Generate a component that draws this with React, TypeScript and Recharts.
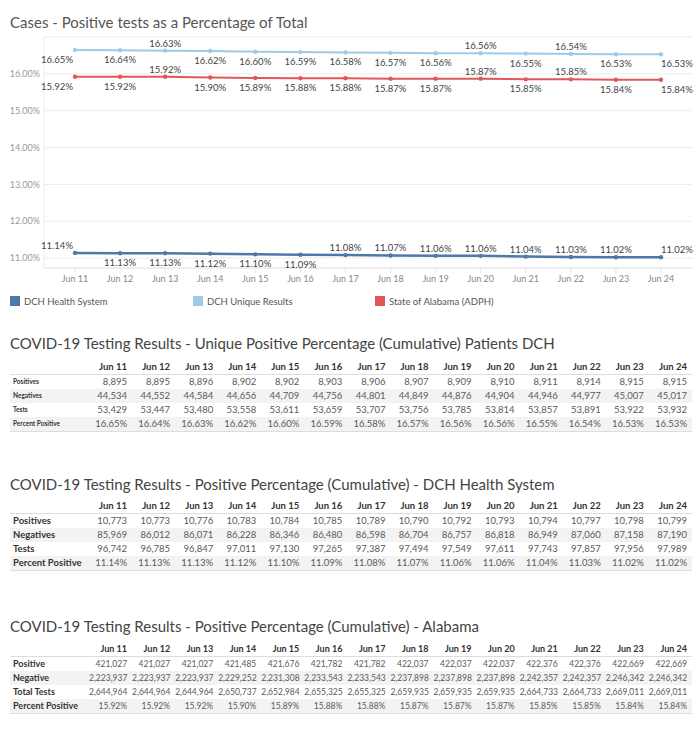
import React from "react";
import { LineChart, Line, XAxis, YAxis, CartesianGrid } from "recharts";

const dates = ["Jun 11", "Jun 12", "Jun 13", "Jun 14", "Jun 15", "Jun 16", "Jun 17", "Jun 18", "Jun 19", "Jun 20", "Jun 21", "Jun 22", "Jun 23", "Jun 24"];

// DCH unique patients
const uniquePositives = [8895, 8895, 8896, 8902, 8902, 8903, 8906, 8907, 8909, 8910, 8911, 8914, 8915, 8915];
const uniqueNegatives = [44534, 44552, 44584, 44656, 44709, 44756, 44801, 44849, 44876, 44904, 44946, 44977, 45007, 45017];
const uniqueTests = [53429, 53447, 53480, 53558, 53611, 53659, 53707, 53756, 53785, 53814, 53857, 53891, 53922, 53932];
const uniquePct = [16.65, 16.64, 16.63, 16.62, 16.6, 16.59, 16.58, 16.57, 16.56, 16.56, 16.55, 16.54, 16.53, 16.53];

// DCH health system
const dchPositives = [10773, 10773, 10776, 10783, 10784, 10785, 10789, 10790, 10792, 10793, 10794, 10797, 10798, 10799];
const dchNegatives = [85969, 86012, 86071, 86228, 86346, 86480, 86598, 86704, 86757, 86818, 86949, 87060, 87158, 87190];
const dchTests = [96742, 96785, 96847, 97011, 97130, 97265, 97387, 97494, 97549, 97611, 97743, 97857, 97956, 97989];
const dchPct = [11.14, 11.13, 11.13, 11.12, 11.1, 11.09, 11.08, 11.07, 11.06, 11.06, 11.04, 11.03, 11.02, 11.02];

// Alabama (ADPH)
const alPositive = [421027, 421027, 421027, 421485, 421676, 421782, 421782, 422037, 422037, 422037, 422376, 422376, 422669, 422669];
const alNegative = [2223937, 2223937, 2223937, 2229252, 2231308, 2233543, 2233543, 2237898, 2237898, 2237898, 2242357, 2242357, 2246342, 2246342];
const alTotal = [2644964, 2644964, 2644964, 2650737, 2652984, 2655325, 2655325, 2659935, 2659935, 2659935, 2664733, 2664733, 2669011, 2669011];
const alPct = [15.92, 15.92, 15.92, 15.9, 15.89, 15.88, 15.88, 15.87, 15.87, 15.87, 15.85, 15.85, 15.84, 15.84];

const yTicks = [11, 12, 13, 14, 15, 16];

// which point labels sit above the line (others sit below)
const dchAbove = [0, 6, 7, 8, 9, 10, 11, 12, 13];
const uniqueAbove = [2, 9, 11];
const alAbove = [2, 9, 11];

const FONT = "Lato, 'Open Sans', sans-serif";

const chartData = dates.map((d, i) => ({
  date: d,
  dch: dchPct[i],
  unique: uniquePct[i],
  state: alPct[i],
}));

const series = [
  { key: "dch", name: "DCH Health System", color: "#4e79a7", above: dchAbove, width: 2.5 },
  { key: "unique", name: "DCH Unique Results", color: "#a0cbe8", above: uniqueAbove, width: 2 },
  { key: "state", name: "State of Alabama (ADPH)", color: "#e15759", above: alAbove, width: 2 },
];

const pct = (v: number) => `${v.toFixed(2)}%`;
const num = (v: number) => v.toLocaleString("en-US");

function makeLabel(above: number[]) {
  return (props: any) => {
    const { x, y, value, index } = props;
    const last = dates.length - 1;
    const isAbove = above.includes(index);
    const anchor = index === 0 ? "end" : index === last ? "start" : "middle";
    const tx = index === 0 ? x - 2 : x;
    const ty = isAbove ? y - 4 : y + 13;
    return (
      <text key={`l-${index}`} x={tx} y={ty} textAnchor={anchor} fontSize={9.5} fill="#444" fontFamily={FONT}>
        {pct(value)}
      </text>
    );
  };
}

type Row = { label: string; values: number[]; fmt: (v: number) => string };

function StatsTable({
  title,
  titleY,
  top,
  rows,
  labelStyle,
  valueSize,
  headerSize,
}: {
  title: string;
  titleY: number;
  top: number;
  rows: Row[];
  labelStyle: React.CSSProperties;
  valueSize: number;
  headerSize: number;
}) {
  const cell: React.CSSProperties = {
    height: 14,
    padding: "0 5px 0 0",
    textAlign: "right",
    whiteSpace: "nowrap",
    overflow: "visible",
    fontSize: valueSize,
    color: "#5a5a5a",
    lineHeight: "14px",
  };
  return (
    <>
      <div style={{ position: "absolute", left: 10, top: titleY - 10, lineHeight: "20px", fontSize: 15, color: "#444", fontFamily: FONT, whiteSpace: "nowrap" }}>
        {title}
      </div>
      <table
        style={{
          position: "absolute",
          left: 10,
          top,
          width: 682,
          borderCollapse: "collapse",
          tableLayout: "fixed",
          fontFamily: FONT,
        }}
      >
        <colgroup>
          <col style={{ width: 79 }} />
          {dates.map((d) => (
            <col key={d} style={{ width: 43.07 }} />
          ))}
        </colgroup>
        <thead>
          <tr style={{ borderBottom: "1px solid #ddd" }}>
            <th style={{ height: 14, padding: 0 }} />
            {dates.map((d) => (
              <th key={d} style={{ ...cell, fontSize: headerSize, fontWeight: 700, color: "#333" }}>
                {d}
              </th>
            ))}
          </tr>
        </thead>
        <tbody>
          {rows.map((r, ri) => (
            <tr
              key={r.label}
              style={{
                background: ri % 2 === 1 ? "#f3f3f3" : "#fff",
                borderBottom: ri === rows.length - 1 ? "1px solid #ddd" : "none",
              }}
            >
              <td style={{ ...cell, textAlign: "left", padding: "0 0 0 3px", color: "#333", ...labelStyle }}>{r.label}</td>
              {r.values.map((v, i) => (
                <td key={i} style={cell}>
                  {r.fmt(v)}
                </td>
              ))}
            </tr>
          ))}
        </tbody>
      </table>
    </>
  );
}

export default function App() {
  return (
    <div style={{ position: "absolute", left: 0, top: 0, width: 700, height: 747, background: "#fff", fontFamily: FONT }}>
      <div style={{ position: "absolute", left: 10, top: 12, lineHeight: "20px", fontSize: 15, color: "#555", whiteSpace: "nowrap" }}>
        Cases - Positive tests as a Percentage of Total
      </div>
      <div style={{ position: "absolute", left: 0, top: 0 }}>
        <LineChart width={700} height={290} data={chartData} margin={{ top: 37, right: 8, left: 0, bottom: 2 }}>
          <CartesianGrid vertical={false} stroke="#ececec" />
          <XAxis
            dataKey="date"
            height={20}
            padding={{ left: 31, right: 31 }}
            axisLine={{ stroke: "#e6e6e6" }}
            tickLine={{ stroke: "#e6e6e6" }}
            tickSize={5}
            tickMargin={3}
            tick={{ fill: "#888", fontSize: 9, fontFamily: FONT }}
          />
          <YAxis
            width={44}
            domain={[10.73, 17.0]}
            allowDataOverflow
            ticks={yTicks}
            tickFormatter={(v) => pct(v)}
            axisLine={{ stroke: "#ececec" }}
            tickLine={false}
            tickSize={0}
            tickMargin={4}
            tick={{ fill: "#999", fontSize: 9, fontFamily: FONT }}
          />
          {series.map((s) => (
            <Line
              key={s.key}
              type="linear"
              dataKey={s.key}
              name={s.name}
              stroke={s.color}
              strokeWidth={s.width}
              dot={{ r: 2.2, fill: s.color, stroke: s.color, strokeWidth: 0 }}
              label={makeLabel(s.above)}
              isAnimationActive={false}
            />
          ))}
        </LineChart>
      </div>
      {series.map((s, i) => (
        <div
          key={s.key}
          style={{
            position: "absolute",
            left: [10, 193, 375][i],
            top: 295,
            height: 12,
            display: "flex",
            alignItems: "center",
            fontSize: 9.5,
            color: "#555",
            whiteSpace: "nowrap",
          }}
        >
          <span style={{ display: "inline-block", width: 10, height: 10, background: s.color, marginRight: 4 }} />
          {s.name}
        </div>
      ))}
      <StatsTable
        title="COVID-19 Testing Results - Unique Positive Percentage (Cumulative) Patients DCH"
        titleY={343}
        top={360}
        valueSize={9.5}
        headerSize={9.5}
        labelStyle={{ fontSize: 6.5, fontWeight: 700 }}
        rows={[
          { label: "Positives", values: uniquePositives, fmt: num },
          { label: "Negatives", values: uniqueNegatives, fmt: num },
          { label: "Tests", values: uniqueTests, fmt: num },
          { label: "Percent Positive", values: uniquePct, fmt: pct },
        ]}
      />
      <StatsTable
        title="COVID-19 Testing Results - Positive Percentage (Cumulative) - DCH Health System"
        titleY={484}
        top={499}
        valueSize={9.5}
        headerSize={9.5}
        labelStyle={{ fontSize: 9.5, fontWeight: 700 }}
        rows={[
          { label: "Positives", values: dchPositives, fmt: num },
          { label: "Negatives", values: dchNegatives, fmt: num },
          { label: "Tests", values: dchTests, fmt: num },
          { label: "Percent Positive", values: dchPct, fmt: pct },
        ]}
      />
      <StatsTable
        title="COVID-19 Testing Results - Positive Percentage (Cumulative) - Alabama"
        titleY={626}
        top={642}
        valueSize={8.5}
        headerSize={9}
        labelStyle={{ fontSize: 9, fontWeight: 700 }}
        rows={[
          { label: "Positive", values: alPositive, fmt: num },
          { label: "Negative", values: alNegative, fmt: num },
          { label: "Total Tests", values: alTotal, fmt: num },
          { label: "Percent Positive", values: alPct, fmt: pct },
        ]}
      />
    </div>
  );
}
